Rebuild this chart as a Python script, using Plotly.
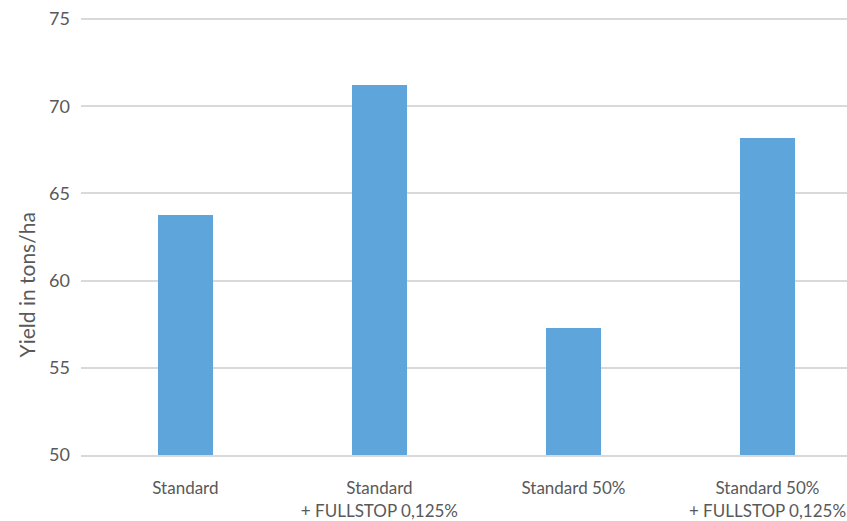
import plotly.graph_objects as go

categories = ["Standard", "Standard<br>+ FULLSTOP 0,125%", "Standard 50%", "Standard 50%<br>+ FULLSTOP 0,125%"]
yield_values = [63.76, 71.19, 57.31, 68.20]
y_ticks = [50, 55, 60, 65, 70, 75]

FONT = "Lato, 'Open Sans', sans-serif"
GRAY = "#595959"

fig = go.Figure(go.Bar(
    x=list(range(len(categories))),
    y=yield_values,
    width=0.283,
    marker=dict(color="#5DA5DA", line=dict(width=0)),
))

fig.update_layout(
    width=847, height=521,
    margin=dict(l=81, r=0, t=18, b=64),
    plot_bgcolor="white", paper_bgcolor="white",
    showlegend=False,
    font=dict(family=FONT, color=GRAY, size=17),
    xaxis=dict(
        range=[-0.538, 3.41],
        tickmode="array",
        tickvals=list(range(len(categories))),
        ticktext=categories,
        showgrid=False,
        showline=True, linecolor="#d9d9d9", linewidth=2,
        tickfont=dict(size=17, color=GRAY),
        ticklabelstandoff=17,
        ticks="", zeroline=False,
    ),
    yaxis=dict(
        range=[50, 75.06],
        tickvals=y_ticks,
        showgrid=True, gridcolor="#d9d9d9", gridwidth=2,
        zeroline=False,
        tickfont=dict(size=18, color=GRAY),
        ticklabelstandoff=10,
    ),
    annotations=[dict(
        text="Yield in tons/ha", textangle=-90,
        xref="paper", yref="paper", x=-0.0718, y=0.388,
        xanchor="center", yanchor="middle", showarrow=False,
        font=dict(size=21, color=GRAY, family=FONT),
    )],
    bargap=0,
)

fig.write_html("out.html", post_script="document.body.style.margin='0';",
               config={"displayModeBar": False})
